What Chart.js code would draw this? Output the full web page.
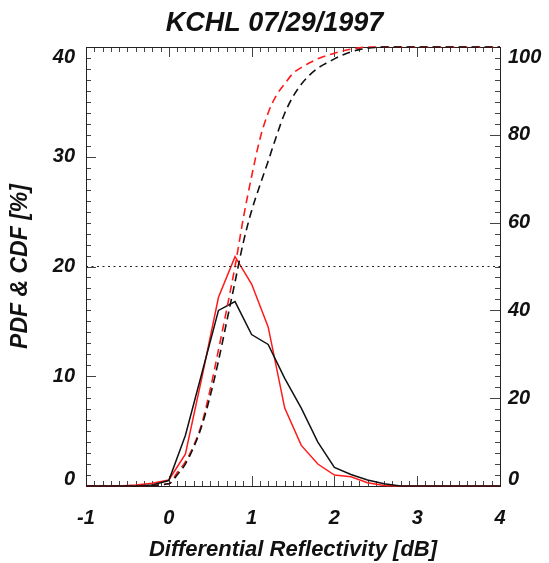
<!DOCTYPE html>
<html><head><meta charset="utf-8">
<script src="https://cdn.jsdelivr.net/npm/chart.js@4"></script>
<style>html,body{margin:0;padding:0;background:#fff}#wrap{width:549px;height:563px}</style>
</head><body><div id="wrap"><canvas id="c" width="549" height="563"></canvas></div>
<script>
const titleText = 'KCHL 07/29/1997';
const xTitle = 'Differential Reflectivity [dB]';
const yTitle = 'PDF & CDF [%]';
const xTicks = [-1, 0, 1, 2, 3, 4];
const yLeftTicks = [0, 10, 20, 30, 40];
const yRightTicks = [0, 20, 40, 60, 80, 100];

const pdfX     = [-1, -0.8, -0.6, -0.4, -0.2, 0, 0.2, 0.4, 0.6, 0.8, 1.0, 1.2, 1.4, 1.6, 1.8, 2.0, 2.2, 2.4, 2.6, 2.8, 3.0, 3.2, 3.4, 3.6, 3.8, 4.0];
const pdfBlack = [0, 0, 0, 0, 0.1, 0.5, 4.6, 10.3, 16.0, 16.8, 13.8, 12.9, 9.8, 7.1, 4.0, 1.7, 1.05, 0.55, 0.2, 0, 0, 0, 0, 0, 0, 0];
const pdfRed   = [0, 0, 0, 0.1, 0.25, 0.55, 2.9, 9.9, 17.2, 20.9, 18.4, 14.5, 7.1, 3.7, 2.0, 1.0, 0.85, 0.3, 0.05, 0, 0, 0, 0, 0, 0, 0];

const cdfX     = [-1, -0.5, 0, 0.1, 0.2, 0.3, 0.4, 0.5, 0.6, 0.7, 0.8, 0.9, 1.0, 1.1, 1.2, 1.3, 1.4, 1.5, 1.6, 1.7, 1.8, 1.9, 2.0, 2.1, 2.2, 2.3, 2.4, 2.5, 2.6, 3.0, 4.0];
const cdfBlack = [0, 0, 0.5, 2.5, 5, 8.8, 13.8, 20.5, 28.5, 37.5, 46.5, 55.5, 62.7, 68.5, 74, 79.7, 84.9, 88.7, 91.5, 93.6, 95.2, 96.3, 97.3, 98.2, 98.9, 99.4, 99.7, 99.9, 100, 100, 100];
const cdfRed   = [0, 0, 0.5, 3, 5.5, 9.2, 14.3, 22, 31, 40.3, 50, 61, 70.5, 79, 85, 89, 91.6, 94, 95.3, 96.4, 97.3, 98, 98.6, 99.1, 99.5, 99.8, 100, 100, 100, 100, 100];

const refX = [-1, 4];
const refY = [20, 20];

const FAMILY = "'Liberation Sans', Arial, Helvetica, sans-serif";
const pts = (xs, ys) => xs.map((x, i) => ({x: x, y: ys[i]}));

const innerTicks = {
  id: 'innerTicks',
  beforeDraw(chart) {
    // nudge the end labels of both value axes inward, as in the reference
    ['y', 'y2'].forEach(id => {
      const s = chart.scales[id];
      const items = s.getLabelItems();
      items.forEach((it, i) => {
        const v = s.ticks[i] && s.ticks[i].value;
        if (v === s.max) it.options.translation[1] += 10;
        else if (v === s.min) it.options.translation[1] -= 7;
      });
    });
  },
  beforeDatasetsDraw(chart) {
    const ctx = chart.ctx, a = chart.chartArea;
    const sx = chart.scales.x, sy = chart.scales.y, sy2 = chart.scales.y2;
    ctx.save();
    ctx.strokeStyle = '#444';
    ctx.lineWidth = 1;
    ctx.beginPath();
    for (let k = -10; k <= 40; k++) {
      const v = k / 10;
      const px = Math.round(sx.getPixelForValue(v)) + 0.5;
      const len = (k % 10 === 0) ? 10 : 5;
      ctx.moveTo(px, a.bottom); ctx.lineTo(px, a.bottom - len);
      ctx.moveTo(px, a.top); ctx.lineTo(px, a.top + len);
    }
    for (let v = 0; v <= 40; v++) {
      const py = Math.round(sy.getPixelForValue(v)) + 0.5;
      const len = (v % 10 === 0) ? 10 : 5;
      ctx.moveTo(a.left, py); ctx.lineTo(a.left + len, py);
    }
    for (let k = 0; k <= 40; k++) {
      const v = k * 2.5;
      const py = Math.round(sy2.getPixelForValue(v)) + 0.5;
      const len = (v % 20 === 0) ? 10 : 5;
      ctx.moveTo(a.right, py); ctx.lineTo(a.right - len, py);
    }
    ctx.stroke();
    ctx.strokeStyle = '#222';
    ctx.strokeRect(Math.round(a.left) + 0.5, Math.round(a.top) + 0.5, Math.round(a.right - a.left), Math.round(a.bottom - a.top));
    ctx.restore();
  }
};

new Chart(document.getElementById('c'), {
  type: 'line',
  data: {
    datasets: [
      { data: pts(refX, refY), yAxisID: 'y', borderColor: '#222', borderWidth: 1, borderDash: [2, 3.5], pointRadius: 0 },
      { data: pts(cdfX, cdfBlack), yAxisID: 'y2', borderColor: '#111', borderWidth: 1.6, borderDash: [8, 5], pointRadius: 0, cubicInterpolationMode: 'monotone' },
      { data: pts(cdfX, cdfRed), yAxisID: 'y2', borderColor: '#ff1a1a', borderWidth: 1.6, borderDash: [8, 5], pointRadius: 0, cubicInterpolationMode: 'monotone' },
      { data: pts(pdfX, pdfBlack), yAxisID: 'y', borderColor: '#111', borderWidth: 1.5, pointRadius: 0, tension: 0 },
      { data: pts(pdfX, pdfRed), yAxisID: 'y', borderColor: '#ff1a1a', borderWidth: 1.5, pointRadius: 0, tension: 0 }
    ]
  },
  options: {
    responsive: false,
    animation: false,
    clip: false,
    layout: { padding: 0 },
    plugins: {
      legend: { display: false },
      tooltip: { enabled: false },
      title: {
        display: true, text: titleText, color: '#111',
        font: { family: FAMILY, size: 27, weight: 'bold', style: 'italic' },
        padding: { top: 7, bottom: 7.6 }
      }
    },
    scales: {
      x: {
        type: 'linear', position: 'bottom', min: -1, max: 4,
        afterBuildTicks: s => { s.ticks = xTicks.map(v => ({ value: v })); },
        afterFit: s => { s.height = 77; },
        ticks: { color: '#111', padding: 20, maxRotation: 0, font: { family: FAMILY, size: 20, weight: 'bold', style: 'italic' } },
        grid: { display: false, drawTicks: false },
        border: { display: false },
        title: { display: true, text: xTitle, color: '#111', padding: { top: 0, bottom: 0 }, font: { family: FAMILY, size: 22, weight: 'bold', style: 'italic' } }
      },
      y: {
        type: 'linear', position: 'left', min: 0, max: 40,
        afterBuildTicks: s => { s.ticks = yLeftTicks.map(v => ({ value: v })); },
        afterFit: s => { s.width = 86; },
        ticks: { color: '#111', padding: 11, font: { family: FAMILY, size: 20, weight: 'bold', style: 'italic' } },
        grid: { display: false, drawTicks: false },
        border: { display: false },
        title: { display: true, text: yTitle, color: '#111', padding: { top: 7, bottom: 0 }, font: { family: FAMILY, size: 23, weight: 'bold', style: 'italic' } }
      },
      y2: {
        type: 'linear', position: 'right', min: 0, max: 100,
        afterBuildTicks: s => { s.ticks = yRightTicks.map(v => ({ value: v })); },
        afterFit: s => { s.width = 49; },
        ticks: { color: '#111', padding: 8, font: { family: FAMILY, size: 20, weight: 'bold', style: 'italic' } },
        grid: { display: false, drawTicks: false },
        border: { display: false }
      }
    }
  },
  plugins: [innerTicks]
});
</script>
</body></html>
